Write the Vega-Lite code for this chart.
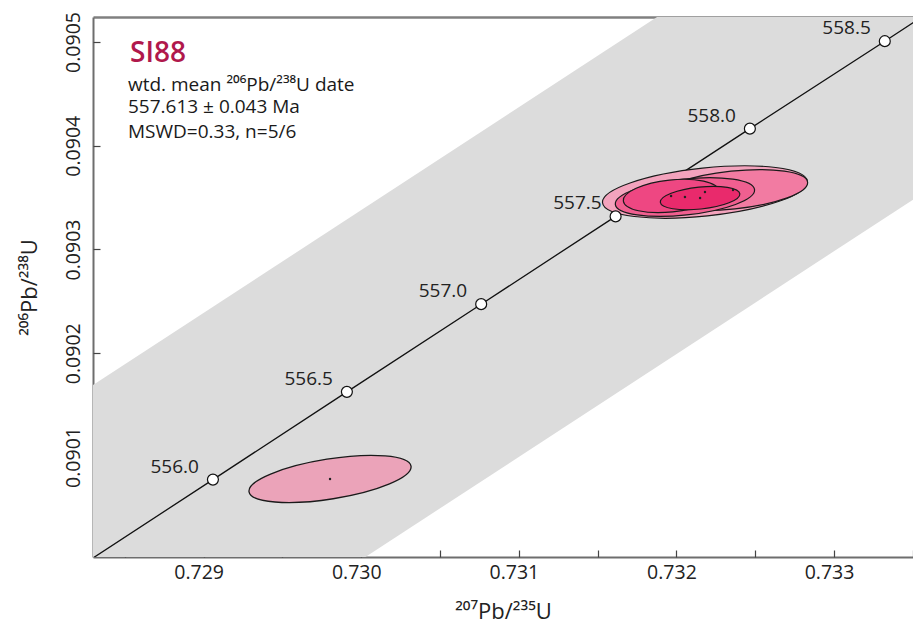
{
  "$schema": "https://vega.github.io/schema/vega-lite/v6.json",
  "width": 820,
  "height": 540,
  "autosize": {"type": "none"},
  "padding": {"left": 93, "top": 17, "right": 0, "bottom": 71},
  "background": "white",
  "config": {
    "view": {"stroke": null},
    "font": "Open Sans",
    "axis": {
      "domainColor": "#6e6e6e",
      "domainWidth": 2,
      "tickColor": "#444444",
      "tickWidth": 1.2,
      "tickSize": 7,
      "labelFont": "Open Sans",
      "labelFontSize": 19.5,
      "labelColor": "#222222",
      "titleFont": "Open Sans",
      "titleFontSize": 22,
      "titleFontWeight": "normal",
      "titleColor": "#222222",
      "grid": false
    }
  },
  "datasets": {
    "band": [
      {"y": 0.08995, "lo": 0.726086, "hi": 0.729486},
      {"y": 0.09056, "lo": 0.732239, "hi": 0.735639}
    ],
    "concordia": [
      {"t": 555.5, "x": 0.728207, "y": 0.0899936},
      {"t": 556.0, "x": 0.729059, "y": 0.0900782},
      {"t": 556.5, "x": 0.729909, "y": 0.0901628},
      {"t": 557.0, "x": 0.730761, "y": 0.0902473},
      {"t": 557.5, "x": 0.731614, "y": 0.0903319},
      {"t": 558.0, "x": 0.732466, "y": 0.0904165},
      {"t": 558.5, "x": 0.733322, "y": 0.0905008},
      {"t": 559.0, "x": 0.734174, "y": 0.0905854}
    ],
    "markers": [
      {"age": "556.0", "x": 0.729059, "y": 0.0900782},
      {"age": "556.5", "x": 0.729909, "y": 0.0901628},
      {"age": "557.0", "x": 0.730761, "y": 0.0902473},
      {"age": "557.5", "x": 0.731614, "y": 0.0903319},
      {"age": "558.0", "x": 0.732466, "y": 0.0904165},
      {"age": "558.5", "x": 0.733322, "y": 0.0905008}
    ],
    "cluster": [
      {"id": "A", "x": 0.732181, "y": 0.0903554},
      {"id": "B", "x": 0.732359, "y": 0.0903573},
      {"id": "C", "x": 0.732054, "y": 0.0903506},
      {"id": "D", "x": 0.731966, "y": 0.0903516},
      {"id": "E", "x": 0.73215, "y": 0.0903496}
    ],
    "lone": [
      {"id": "L", "x": 0.729802, "y": 0.0900788}
    ],
    "title": [
      {"x": 0.728533, "y": 0.0904884, "text": "SI88"}
    ],
    "notes": [
      {"x": 0.72852, "y": 0.090459, "text": "wtd. mean ²⁰⁶Pb/²³⁸U date"},
      {"x": 0.72852, "y": 0.0904369, "text": "557.613 ± 0.043 Ma"},
      {"x": 0.72852, "y": 0.0904133, "text": "MSWD=0.33, n=5/6"}
    ]
  },
  "resolve": {
    "axis": {"x": "independent", "y": "independent"},
    "scale": {"shape": "independent", "color": "independent"}
  },
  "layer": [
    {
      "data": {"name": "band"},
      "mark": {"type": "area", "orient": "horizontal", "color": "#dcdcdc", "clip": true},
      "encoding": {
        "y": {
          "field": "y", "type": "quantitative",
          "scale": {"domain": [0.0900036, 0.0905241], "nice": false, "zero": false},
          "axis": {
            "orient": "left",
            "values": [0.0901, 0.0902, 0.0903, 0.0904, 0.0905],
            "format": ".4f",
            "ticks": false,
            "labelAngle": -90,
            "labelAlign": "center",
            "labelBaseline": "bottom",
            "labelPadding": 10,
            "title": "²⁰⁶Pb/²³⁸U",
            "titlePadding": 22
          }
        },
        "x": {
          "field": "lo", "type": "quantitative", "stack": null,
          "scale": {"domain": [0.728298, 0.733501], "nice": false, "zero": false},
          "axis": {
            "orient": "bottom",
            "values": [0.729, 0.73, 0.731, 0.732, 0.733],
            "format": ".3f",
            "ticks": false,
            "labelPadding": 6,
            "labelOffset": -5,
            "labelFlush": false,
            "title": "²⁰⁷Pb/²³⁵U",
            "titlePadding": 20
          }
        },
        "x2": {"field": "hi"}
      }
    },
    {
      "data": {"name": "concordia"},
      "mark": {"type": "line", "color": "#111111", "strokeWidth": 1.3, "clip": true},
      "encoding": {
        "x": {"field": "x", "type": "quantitative", "axis": {"orient": "top", "labels": false, "ticks": false, "title": null, "domainColor": "#808080", "domainWidth": 2.5}},
        "y": {"field": "y", "type": "quantitative", "axis": {"orient": "right", "offset": -820, "values": [0.0901, 0.0902, 0.0903, 0.0904, 0.0905], "labels": false, "domain": false, "ticks": true, "title": null}},
        "order": {"field": "t", "type": "quantitative"}
      }
    },
    {
      "data": {"name": "lone"},
      "mark": {"type": "point", "filled": true, "opacity": 1, "stroke": "#1a1a1a", "strokeWidth": 1.3, "size": 48400, "angle": -9, "clip": true},
      "encoding": {
        "x": {"field": "x", "type": "quantitative", "axis": {"orient": "top", "offset": -540, "values": [0.7285, 0.729, 0.7295, 0.73, 0.7305, 0.731, 0.7315, 0.732, 0.7325, 0.733, 0.7335], "labels": false, "domain": false, "ticks": true, "title": null}},
        "y": {"field": "y", "type": "quantitative", "axis": null},
        "shape": {"field": "id", "type": "nominal", "legend": null,
          "scale": {"domain": ["L"], "range": ["M0.7455,0C0.7455,-0.1004,0.4117,-0.1818,0,-0.1818C-0.4117,-0.1818,-0.7455,-0.1004,-0.7455,0C-0.7455,0.1004,-0.4117,0.1818,0,0.1818C0.4117,0.1818,0.7455,0.1004,0.7455,0Z"]}},
        "color": {"field": "id", "type": "nominal", "legend": null, "scale": {"domain": ["L"], "range": ["#eba3b9"]}}
      }
    },
    {
      "data": {"name": "cluster"},
      "mark": {"type": "point", "filled": true, "opacity": 1, "stroke": "#1a1a1a", "strokeWidth": 1.2, "size": 48400, "angle": -6, "clip": true},
      "encoding": {
        "x": {"field": "x", "type": "quantitative", "axis": null},
        "y": {"field": "y", "type": "quantitative", "axis": null},
        "shape": {"field": "id", "type": "nominal", "legend": null,
          "scale": {"domain": ["A", "B", "C", "D", "E"], "range": [
            "M0.9364,0C0.9364,-0.1205,0.5172,-0.2182,0,-0.2182C-0.5172,-0.2182,-0.9364,-0.1205,-0.9364,0C-0.9364,0.1205,-0.5172,0.2182,0,0.2182C0.5172,0.2182,0.9364,0.1205,0.9364,0Z",
            "M0.6818,0C0.6818,-0.0954,0.3766,-0.1727,0,-0.1727C-0.3766,-0.1727,-0.6818,-0.0954,-0.6818,0C-0.6818,0.0954,-0.3766,0.1727,0,0.1727C0.3766,0.1727,0.6818,0.0954,0.6818,0Z",
            "M0.6364,0C0.6364,-0.0904,0.3515,-0.1636,0,-0.1636C-0.3515,-0.1636,-0.6364,-0.0904,-0.6364,0C-0.6364,0.0904,-0.3515,0.1636,0,0.1636C0.3515,0.1636,0.6364,0.0904,0.6364,0Z",
            "M0.4364,0C0.4364,-0.0803,0.241,-0.1455,0,-0.1455C-0.241,-0.1455,-0.4364,-0.0803,-0.4364,0C-0.4364,0.0803,-0.241,0.1455,0,0.1455C0.241,0.1455,0.4364,0.0803,0.4364,0Z",
            "M0.3636,0C0.3636,-0.0552,0.2008,-0.1,0,-0.1C-0.2008,-0.1,-0.3636,-0.0552,-0.3636,0C-0.3636,0.0552,-0.2008,0.1,0,0.1C0.2008,0.1,0.3636,0.0552,0.3636,0Z"
          ]}},
        "color": {"field": "id", "type": "nominal", "legend": null,
          "scale": {"domain": ["A", "B", "C", "D", "E"], "range": ["#f3a3bd", "#f27ba2", "#f05f90", "#ee4782", "#e92a6c"]}}
      }
    },
    {
      "data": {"name": "cluster"},
      "mark": {"type": "point", "filled": true, "opacity": 1, "color": "#222222", "size": 6, "shape": "circle"},
      "encoding": {
        "x": {"field": "x", "type": "quantitative", "axis": null},
        "y": {"field": "y", "type": "quantitative", "axis": null}
      }
    },
    {
      "data": {"name": "lone"},
      "mark": {"type": "point", "filled": true, "opacity": 1, "color": "#222222", "size": 6, "shape": "circle"},
      "encoding": {
        "x": {"field": "x", "type": "quantitative", "axis": null},
        "y": {"field": "y", "type": "quantitative", "axis": null}
      }
    },
    {
      "data": {"name": "markers"},
      "mark": {"type": "point", "shape": "circle", "filled": true, "opacity": 1, "fill": "white", "stroke": "#111111", "strokeWidth": 1.2, "size": 120},
      "encoding": {
        "x": {"field": "x", "type": "quantitative", "axis": null},
        "y": {"field": "y", "type": "quantitative", "axis": null}
      }
    },
    {
      "data": {"name": "markers"},
      "mark": {"type": "text", "align": "right", "baseline": "middle", "dx": -14, "dy": -13, "fontSize": 19, "font": "Open Sans", "color": "#222222"},
      "encoding": {
        "x": {"field": "x", "type": "quantitative", "axis": null},
        "y": {"field": "y", "type": "quantitative", "axis": null},
        "text": {"field": "age", "type": "nominal"}
      }
    },
    {
      "data": {"name": "title"},
      "mark": {"type": "text", "align": "left", "baseline": "middle", "fontSize": 28, "fontWeight": 600, "font": "Open Sans", "color": "#b0184c"},
      "encoding": {
        "x": {"field": "x", "type": "quantitative", "axis": null},
        "y": {"field": "y", "type": "quantitative", "axis": null},
        "text": {"field": "text", "type": "nominal"}
      }
    },
    {
      "data": {"name": "notes"},
      "mark": {"type": "text", "align": "left", "baseline": "middle", "fontSize": 19, "font": "Open Sans", "color": "#1a1a1a"},
      "encoding": {
        "x": {"field": "x", "type": "quantitative", "axis": null},
        "y": {"field": "y", "type": "quantitative", "axis": null},
        "text": {"field": "text", "type": "nominal"}
      }
    }
  ]
}
